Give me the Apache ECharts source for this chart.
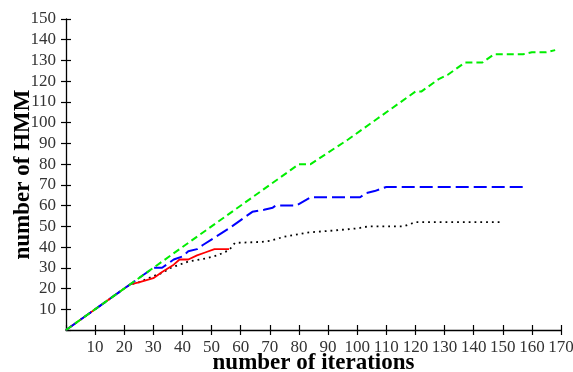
<!DOCTYPE html>
<html>
<head>
<meta charset="utf-8">
<script src="https://cdn.jsdelivr.net/npm/echarts@6/dist/echarts.min.js"></script>
<style>
  html, body { margin: 0; padding: 0; background: #fff; }
  #chart { width: 573px; height: 372px; }
</style>
</head>
<body>
<div id="chart"></div>
<script>
// values
const greenX = [0, 77, 80, 84, 97, 107, 120, 122, 127, 128, 131, 137, 143, 147, 157, 160, 165, 168]
const greenY = [0, 77, 80, 80, 92, 102, 115, 115, 120, 121, 123, 129, 129, 133, 133, 134, 134, 135]

const blueX = [0, 25, 28, 30, 33, 37, 40, 42, 45, 47, 56, 64, 66, 68, 71, 72, 79, 84, 101, 103, 106, 108, 110, 157]
const blueY = [0, 25, 28, 30, 30, 34, 35.5, 38, 39, 41, 49, 57, 57.5, 58, 59, 60, 60, 64, 64, 66, 67, 68, 69, 69]

const redX = [0, 22, 25, 30, 33, 37, 39, 42, 45, 48, 51, 56]
const redY = [0, 22, 23, 25, 28, 31.5, 34, 34, 36, 37.5, 39, 39]

const blackX = [0, 22, 25, 30, 33, 36, 39, 42, 48, 52, 56, 58, 67, 70, 75, 83, 92, 100, 104, 116, 118, 120, 149]
const blackY = [0, 22, 23, 26, 27.5, 30, 31.5, 33, 34.5, 36, 38.5, 42, 42.5, 43, 45, 47, 48, 49, 50, 50, 51, 52, 52]

function zip(xs, ys) {
  return xs.map((x, i) => [x, ys[i]])
}

const font = 'Liberation Serif'

const chart = echarts.init(document.getElementById('chart'))

let option = {
  animation: false,
  grid: { left: 66, right: 12, top: 19, bottom: 42, containLabel: false, outerBoundsMode: 'none' },
  xAxis: [
    {
      type: 'value',
      min: 0, max: 170, interval: 10,
      name: 'number of iterations',
      nameLocation: 'middle',
      nameGap: 22,
      nameMoveOverlap: false,
      nameTextStyle: { fontFamily: font, fontWeight: 'bold', fontSize: 23, color: '#000' },
      axisLine: { show: true, lineStyle: { color: '#000', width: 1.3 } },
      axisTick: { show: true, length: 5, lineStyle: { color: '#000', width: 1.2 } },
      axisLabel: { showMinLabel: false, margin: 9, fontFamily: font, fontSize: 17, color: '#333' },
      splitLine: { show: false }
    },
    {
      // inner half of the ticks
      type: 'value', position: 'bottom',
      min: 0, max: 170, interval: 10,
      axisLine: { show: false },
      axisTick: { show: true, inside: true, length: 5, lineStyle: { color: '#000', width: 1.2 } },
      axisLabel: { show: false },
      splitLine: { show: false }
    }
  ],
  yAxis: [
    {
      type: 'value',
      min: 0, max: 150, interval: 10,
      name: 'number of HMM',
      nameLocation: 'middle',
      nameGap: 31,
      nameMoveOverlap: false,
      nameTextStyle: { fontFamily: font, fontWeight: 'bold', fontSize: 23, color: '#000' },
      axisLine: { show: true, lineStyle: { color: '#000', width: 1.3 } },
      axisTick: { show: true, length: 5, lineStyle: { color: '#000', width: 1.2 } },
      axisLabel: { showMinLabel: false, margin: 10, fontFamily: font, fontSize: 17, color: '#333' },
      splitLine: { show: false }
    },
    {
      type: 'value', position: 'left',
      min: 0, max: 150, interval: 10,
      axisLine: { show: false },
      axisTick: { show: true, inside: true, length: 5, lineStyle: { color: '#000', width: 1.2 } },
      axisLabel: { show: false },
      splitLine: { show: false }
    }
  ],
  series: [
    {
      type: 'line', data: zip(blackX, blackY), showSymbol: false,
      lineStyle: { color: '#000', width: 1.8, type: [1.8, 4] }
    },
    {
      type: 'line', data: zip(redX, redY), showSymbol: false,
      lineStyle: { color: '#ff0000', width: 1.8 }
    },
    {
      type: 'line', data: zip(blueX, blueY), showSymbol: false,
      lineStyle: { color: '#0000ff', width: 2, type: [13, 5] }
    },
    {
      type: 'line', data: zip(greenX, greenY), showSymbol: false,
      lineStyle: { color: '#00ee00', width: 2, type: [7, 4] }
    }
  ]
}

chart.setOption(option)
</script>
</body>
</html>
